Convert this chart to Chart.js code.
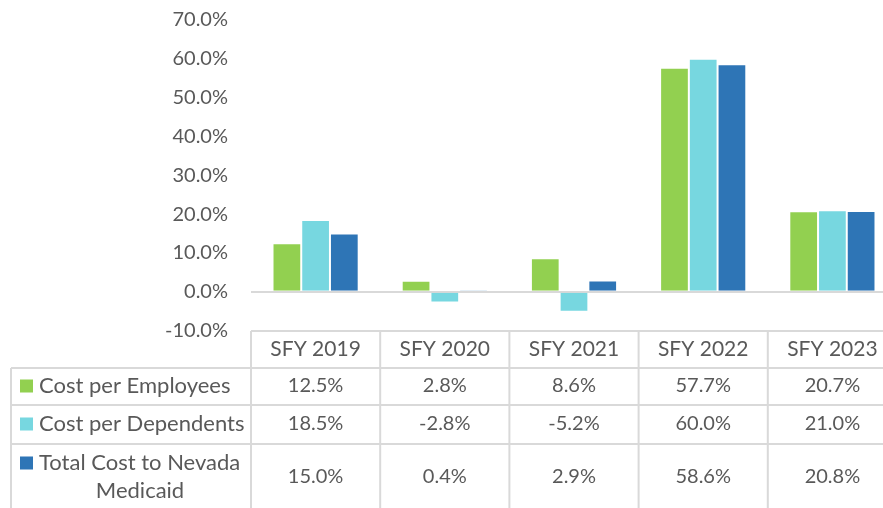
<!DOCTYPE html>
<html>
<head>
<meta charset="utf-8">
<script src="https://cdn.jsdelivr.net/npm/chart.js@4"></script>
<style>
  html, body { margin: 0; padding: 0; background: #fff; overflow: hidden; }
  #wrap { width: 897px; height: 508px; }
</style>
</head>
<body>
<div id="wrap"><canvas id="chart" width="897" height="508"></canvas></div>
<script>
const categories = ["SFY 2019", "SFY 2020", "SFY 2021", "SFY 2022", "SFY 2023"];
const costPerEmployees = [12.5, 2.8, 8.6, 57.7, 20.7];
const costPerDependents = [18.5, -2.8, -5.2, 60.0, 21.0];
const totalCostMedicaid = [15.0, 0.4, 2.9, 58.6, 20.8];
const seriesNames = [["Cost per Employees"], ["Cost per Dependents"], ["Total Cost to Nevada", "Medicaid"]];
const yMin = -10, yMax = 70, yStep = 10;

const textColor = "#595959";
const lineColor = "#D9D9D9";
const fontFamily = "Lato, 'Open Sans', sans-serif";
const fontSize = 20;

// data table under the plot, drawn off the x scale
const tablePlugin = {
  id: "dataTable",
  afterDraw(chart) {
    const ctx = chart.ctx;
    const area = chart.chartArea;
    const x = chart.scales.x;
    const n = categories.length;
    const colW = (area.right - area.left) / n;
    const top = 331, rows = [368, 405, 444, 520];
    const leftEdge = 11;
    const values = [costPerEmployees, costPerDependents, totalCostMedicaid];
    const colors = chart.data.datasets.map(d => d.backgroundColor);

    ctx.save();
    ctx.strokeStyle = lineColor;
    ctx.lineWidth = 2;
    ctx.beginPath();
    ctx.moveTo(area.left, top); ctx.lineTo(area.right, top);
    rows.slice(0, 3).forEach(r => { ctx.moveTo(leftEdge, r); ctx.lineTo(area.right, r); });
    for (let i = 0; i <= n; i++) {
      const cx = area.left + i * colW;
      ctx.moveTo(cx, top); ctx.lineTo(cx, 520);
    }
    ctx.moveTo(leftEdge, rows[0]); ctx.lineTo(leftEdge, 520);
    ctx.stroke();

    ctx.fillStyle = textColor;
    ctx.textBaseline = "middle";
    ctx.textAlign = "center";
    ctx.font = "21px " + fontFamily;
    categories.forEach((c, i) => ctx.fillText(c, x.getPixelForValue(i), (top + rows[0]) / 2));

    const rowMid = [386, 424, 477];
    values.forEach((vals, r) => {
      ctx.fillStyle = textColor;
      ctx.textAlign = "center";
      ctx.font = fontSize + "px " + fontFamily;
      vals.forEach((v, i) => ctx.fillText(v.toFixed(1) + "%", x.getPixelForValue(i), rowMid[r]));
      const lines = seriesNames[r];
      const y0 = lines.length > 1 ? 463 : rowMid[r];
      ctx.fillStyle = colors[r];
      ctx.fillRect(20, y0 - 6.5, 13, 13);
      ctx.fillStyle = textColor;
      ctx.textAlign = "left";
      ctx.font = "22px " + fontFamily;
      ctx.fillText(lines[0], 39, y0);
      if (lines.length > 1) {
        ctx.textAlign = "center";
        ctx.fillText(lines[1], 140, y0 + 28);
      }
    });
    ctx.restore();
  }
};

const barStyle = { borderColor: "rgba(255,255,255,0.5)", borderWidth: 1, categoryPercentage: 0.667, barPercentage: 1.0 };

new Chart(document.getElementById("chart"), {
  type: "bar",
  data: {
    labels: categories,
    datasets: [
      Object.assign({ label: seriesNames[0].join(" "), data: costPerEmployees, backgroundColor: "#92D050" }, barStyle),
      Object.assign({ label: seriesNames[1].join(" "), data: costPerDependents, backgroundColor: "#77D7E0" }, barStyle),
      Object.assign({ label: seriesNames[2].join(" "), data: totalCostMedicaid, backgroundColor: "#2E75B6" }, barStyle)
    ]
  },
  options: {
    responsive: false,
    animation: false,
    devicePixelRatio: 1,
    layout: { autoPadding: false, padding: { top: 20, bottom: 177.5, left: 0, right: 0 } },
    plugins: { legend: { display: false }, title: { display: false }, tooltip: { enabled: false } },
    scales: {
      x: { display: false },
      y: {
        min: yMin,
        max: yMax,
        afterFit: s => { s.width = 251; s.paddingTop = 0; s.paddingBottom = 0; },
        border: { display: false },
        grid: {
          drawTicks: false,
          lineWidth: 2,
          color: c => (c.tick && c.tick.value === 0 ? lineColor : "rgba(0,0,0,0)")
        },
        ticks: {
          stepSize: yStep,
          padding: 23,
          color: textColor,
          font: { family: fontFamily, size: fontSize },
          callback: v => v.toFixed(1) + "%"
        }
      }
    }
  },
  plugins: [tablePlugin]
});
</script>
</body>
</html>
